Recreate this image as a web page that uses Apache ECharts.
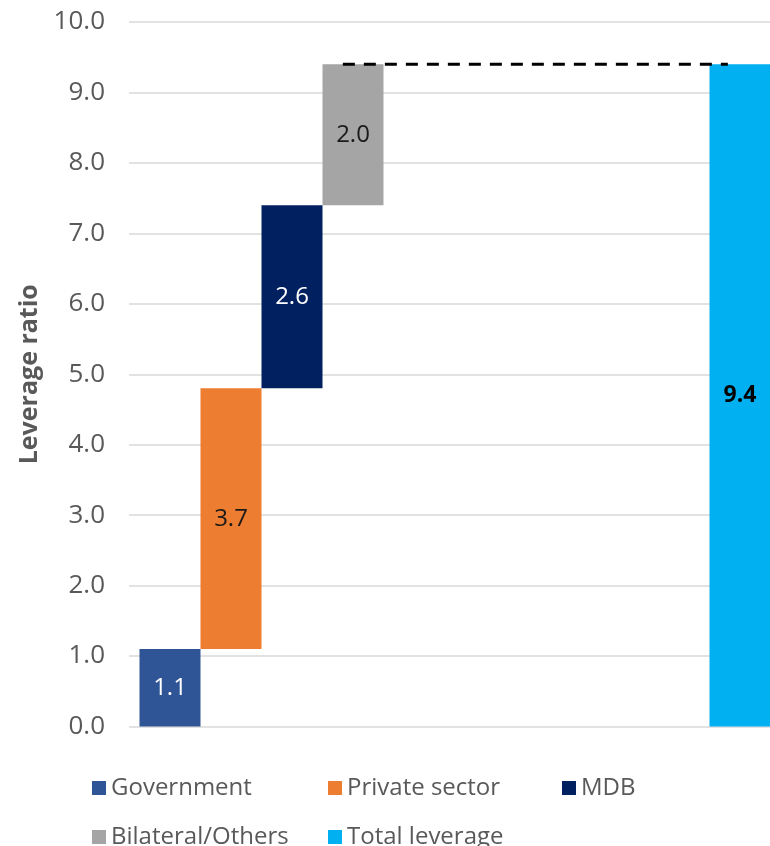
<!DOCTYPE html>
<html>
<head>
<meta charset="utf-8">
<title>Leverage ratio</title>
<script src="https://cdn.jsdelivr.net/npm/echarts@6/dist/echarts.min.js"></script>
<style>
  html, body { margin: 0; padding: 0; background: #ffffff; }
  #chart { width: 770px; height: 846px; }
</style>
</head>
<body>
<div id="chart"></div>
<script>
// Contributions to total leverage, stacked as a waterfall
const contributors = ['Government', 'Private sector', 'MDB', 'Bilateral/Others'];
const contributions = [1.1, 3.7, 2.6, 2.0];
const totalName = 'Total leverage';
const totalValue = 9.4;

// Two groups on the x axis: the contributions, then the total
const groups = ['', ''];

// Y axis ticks
const yTicks = [0, 1, 2, 3, 4, 5, 6, 7, 8, 9, 10];

// Dashed connector from the last contribution over to the total bar (x in group units)
const connectorX = [0.656, 1.837];

const colors = {
  'Government': '#2F5597',
  'Private sector': '#ED7D31',
  'MDB': '#002060',
  'Bilateral/Others': '#A5A5A5',
  'Total leverage': '#00B0F0'
};
const labelColors = {
  'Government': '#ffffff',
  'Private sector': '#1a1a1a',
  'MDB': '#ffffff',
  'Bilateral/Others': '#1a1a1a'
};

// Legend grid: three columns, two rows
const legendRows = [
  ['Government', 'Private sector', 'MDB'],
  ['Bilateral/Others', 'Total leverage']
];
const legendColLeft = [92, 328, 562];
const legendRowTop = [776, 825];

const FONT = "'Open Sans', 'Noto Sans', sans-serif";
const BAR_W = 61;

const series = [];
let running = 0;
contributors.forEach((name, i) => {
  const stack = 's' + i;
  if (running > 0) {
    // invisible base lifting the floating bar
    series.push({
      name: '__base' + i,
      type: 'bar',
      stack: stack,
      barWidth: BAR_W,
      barGap: '0%',
      silent: true,
      itemStyle: { color: 'transparent' },
      label: { show: false },
      data: [running, '-']
    });
  }
  series.push({
    name: name,
    type: 'bar',
    stack: stack,
    barWidth: BAR_W,
    barGap: '0%',
    itemStyle: { color: colors[name] },
    label: {
      show: true,
      position: 'inside',
      color: labelColors[name],
      fontFamily: FONT,
      fontSize: 24,
      formatter: p => Number(p.value).toFixed(1)
    },
    data: [contributions[i], '-']
  });
  running += contributions[i];
});

series.push({
  name: totalName,
  type: 'bar',
  stack: 'total',
  barWidth: BAR_W,
  barGap: '0%',
  itemStyle: { color: colors[totalName] },
  label: {
    show: true,
    position: 'inside',
    color: '#000000',
    fontFamily: FONT,
    fontSize: 23,
    fontWeight: 'bold',
    formatter: p => Number(p.value).toFixed(1)
  },
  data: ['-', totalValue]
});

series.push({
  name: '__connector',
  type: 'line',
  xAxisIndex: 1,
  yAxisIndex: 0,
  symbol: 'none',
  silent: true,
  z: 5,
  lineStyle: { color: '#000000', width: 3, type: [12, 9] },
  data: connectorX.map(x => [x, totalValue])
});

const legendText = { color: '#595959', fontFamily: FONT, fontSize: 24 };
const legends = [];
legendRows.forEach((row, r) => {
  row.forEach((name, c) => {
    legends.push({
      data: [name],
      left: legendColLeft[c],
      top: legendRowTop[r],
      padding: 0,
      itemWidth: 14,
      itemHeight: 14,
      icon: 'rect',
      textStyle: legendText,
      selectedMode: false
    });
  });
});

const chart = echarts.init(document.getElementById('chart'), null, { renderer: 'canvas' });
chart.setOption({
  animation: false,
  backgroundColor: '#ffffff',
  // the plot runs slightly past the right edge of the canvas
  grid: { left: 129, width: 652, top: 22, height: 704.5, outerBoundsMode: 'none', containLabel: false },
  legend: legends,
  xAxis: [
    {
      type: 'category',
      data: groups,
      boundaryGap: true,
      axisLine: { show: false },
      axisTick: { show: false },
      axisLabel: { show: false }
    },
    {
      type: 'value',
      min: 0,
      max: groups.length,
      show: false
    }
  ],
  yAxis: {
    type: 'value',
    min: yTicks[0],
    max: yTicks[yTicks.length - 1],
    interval: 1,
    name: 'Leverage ratio',
    nameLocation: 'middle',
    nameRotate: 90,
    nameGap: 87,
    nameTextStyle: { color: '#595959', fontFamily: FONT, fontSize: 25, fontWeight: 'bold' },
    axisLine: { show: false },
    axisTick: { show: false },
    axisLabel: {
      color: '#595959',
      fontFamily: FONT,
      fontSize: 26,
      margin: 24,
      formatter: v => v.toFixed(1)
    },
    splitLine: { lineStyle: { color: '#D9D9D9', width: 1.5 } }
  },
  series: series
});
</script>
</body>
</html>
